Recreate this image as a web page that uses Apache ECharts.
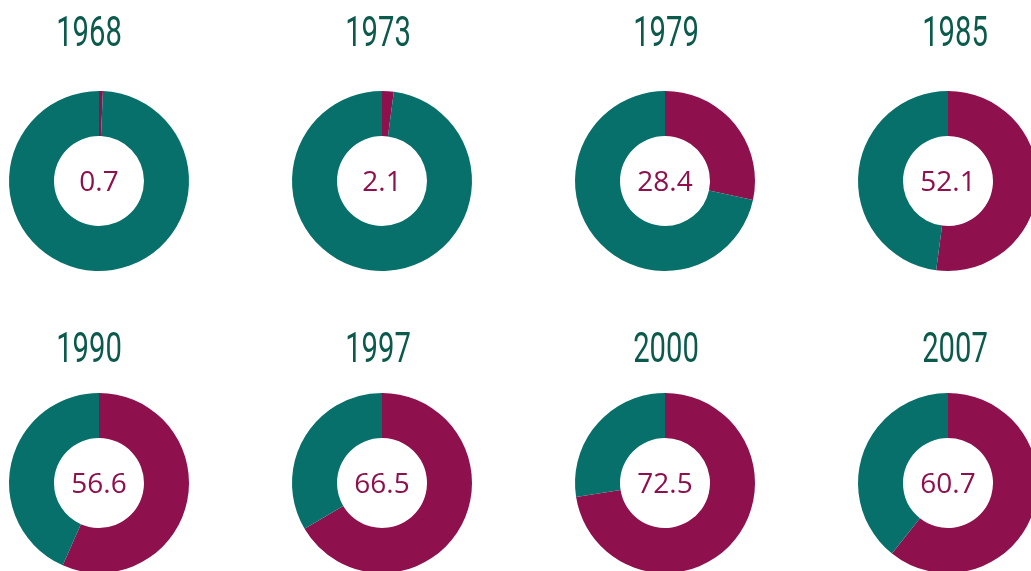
<!DOCTYPE html>
<html>
<head>
<meta charset="utf-8">
<script src="https://cdn.jsdelivr.net/npm/echarts@6/dist/echarts.min.js"></script>
<style>
  html, body { margin: 0; padding: 0; background: #fff; }
  #chart { width: 1031px; height: 571px; }
</style>
</head>
<body>
<div id="chart"></div>
<script>
// years shown above each donut
const years = ['1968', '1973', '1979', '1985', '1990', '1997', '2000', '2007']
// share shown in the middle (crimson part)
const shares = [0.7, 2.1, 28.4, 52.1, 56.6, 66.5, 72.5, 60.7]
// remaining part (teal)
const rest = [99.3, 97.9, 71.6, 47.9, 43.4, 33.5, 27.5, 39.3]

const colX = [99, 382, 665, 948]
const rowY = [181, 483]
const titleX = [89, 378, 666, 955]
const titleY = [35, 351]

const crimson = '#8e104c'
const teal = '#08706a'

const chart = echarts.init(document.getElementById('chart'))

const graphics = []
const series = []

years.forEach((year, i) => {
    const col = i % 4
    const row = Math.floor(i / 4)

    // condensed look for the year labels: squeeze the text horizontally
    graphics.push({
        type: 'text',
        x: titleX[col],
        y: titleY[row],
        scaleX: 0.68,
        silent: true,
        style: {
            text: year,
            fontFamily: 'Roboto, "Noto Sans", sans-serif',
            fontWeight: 'normal',
            fontSize: 43,
            fill: '#0b5a4c',
            align: 'center',
            verticalAlign: 'middle'
        }
    })

    series.push({
        type: 'pie',
        center: [colX[col], rowY[row]],
        radius: [45, 90],
        startAngle: 90,
        clockwise: true,
        silent: true,
        avoidLabelOverlap: false,
        labelLine: { show: false },
        itemStyle: { borderWidth: 0 },
        data: [
            {
                value: shares[i],
                name: 'share',
                itemStyle: { color: crimson },
                label: {
                    show: true,
                    position: 'center',
                    offset: [0, 2],
                    formatter: String(shares[i]),
                    fontFamily: '"Open Sans", sans-serif',
                    fontSize: 28,
                    color: crimson
                }
            },
            {
                value: rest[i],
                name: 'rest',
                itemStyle: { color: teal },
                label: { show: false }
            }
        ]
    })
})

chart.setOption({
    animation: false,
    graphic: graphics,
    series: series
})
</script>
</body>
</html>
